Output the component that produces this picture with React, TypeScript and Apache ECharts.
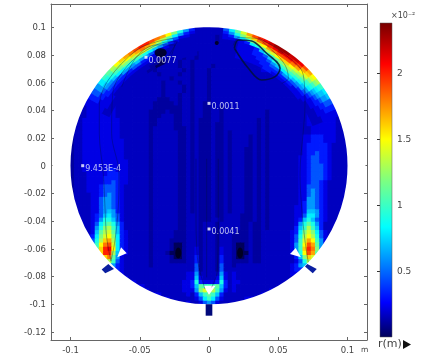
import React, { useEffect, useRef } from "react";
import * as echarts from "echarts";

// Field r(m): one character per grid cell, an index into levelValues (x 1e-2); '.' = outside the domain.
// Columns: x = -0.102 + 0.003 i, rows: y = 0.102 - 0.003 j
const levelChars = "0123456789ABCDEFGHIJKLMN";
const levelValues = [0, 0.11, 0.16, 0.22, 0.32, 0.45, 0.6, 0.7, 0.8, 0.9, 1.0, 1.1, 1.2, 1.3, 1.4, 1.5, 1.6, 1.7, 1.8, 1.9, 2.0, 2.1, 2.2, 2.3];
const gridStart = 0.102;
const gridStep = 0.003;
const fieldRows = [
  ".......... .......... .......... .......... .......... .......... .........",
  ".......... .......... ........33 2222222237 C......... .......... .........",
  ".......... .......... ....A85432 2222222223 6AEGI..... .......... .........",
  ".......... .......... .IGC853222 2222221222 2358CGJK.. .......... .........",
  ".......... .........K JFA6322222 2222221222 22258BEHKM .......... .........",
  ".......... .......KKI E953221122 2222222222 2212349CFI LN........ .........",
  ".......... .....IJIFB 7311222222 1222222222 22133348AC FILN...... .........",
  ".......... ....HHGD96 4200112221 2122222222 2221333448 ADGKM..... .........",
  ".......... ..FFEB8532 2101122212 2122222222 2222133455 79BEHKL... .........",
  ".......... .DEDA75322 2112222122 1222222222 2222213455 568BDGJK.. .........",
  ".......... BCB9643222 2222222122 1222212222 2222222344 4568ACFIJ. .........",
  ".........9 AA86432222 2122222212 1222122222 2222222333 32468ACFGG .........",
  "........78 8754322222 2212222122 1222122222 2222222222 2234679BDE E........",
  ".......566 6543322222 2222212222 1222122222 2222222222 222245689B B9.......",
  "......4455 5433222222 2221222122 1222122222 2222222222 2222345678 887......",
  ".....33444 4332222222 2221222212 1222122222 2222222222 2222334556 665......",
  ".....33334 3322222222 2221222212 1222122222 2222222222 2222233445 5544.....",
  "....223333 3222222222 2221222122 1222122222 2222222222 2222223344 4443.....",
  "....223333 3222222222 2211122122 1222122222 2222222222 2222222334 44433....",
  "....223333 3322222222 2111112122 1221122222 2222222222 2222222333 44433....",
  "...2233333 3322222222 2111111122 1221122122 2222222222 2222222233 344333...",
  "...2233333 3322222222 1111211122 1221122122 2222222212 2222222233 333332...",
  "...2233333 3322222222 1112221122 1221122122 2222222212 2222222233 333332...",
  "..22333333 3332222222 1122221122 1211122122 2222221212 2222222233 333332...",
  "..22333333 3332222222 1122221122 1211121122 2222221212 2222222233 3333322..",
  "..22333333 3332222222 1222221112 1211121122 2222221212 2222222223 3333322..",
  "..22333333 3332222222 1222222112 1211121121 2222221212 2222222223 3333322..",
  ".122333333 3332222222 1222222112 1211121121 2222121212 2222222334 4433322..",
  ".122333333 3333222222 1222222112 1211121121 2222121212 2222222334 4433322..",
  ".122333333 3333222222 1222222112 1211121121 2222121212 2222222344 4443222..",
  "1122333333 3333222222 1222222112 1211121121 2221121212 2222222344 44432222.",
  "1122333333 3333222222 1222222112 1211121121 2221121212 2222222344 54432222.",
  "1122333333 3333222222 1222222112 1211121121 2221121212 2222223345 54432222.",
  "1122333333 3333322222 1222222112 1211121121 2221121212 2222223345 54432222.",
  "1122333333 3333322222 1222222112 1211121121 2221121212 2222223345 55432222.",
  "1122333333 4433322222 1222222112 1211121121 2221121212 2222223345 55432222.",
  "1122233333 4443322222 1222222112 1211121121 2221121212 2222223345 55432222.",
  "1122233334 4443322222 1222222112 1211121121 2221121212 2222223345 55432222.",
  ".122233334 4543322222 1222222112 1211121121 2221121212 2222223345 54322222.",
  ".122233345 5543222222 1222222112 1211121121 2221121212 2222223355 54322222.",
  ".122233345 5543222222 1222222112 1211121121 2221121212 2222223356 54322222.",
  ".122223345 6543222222 1222222112 1211121121 2221121212 2222223356 5432222..",
  ".122223356 6543222222 1222222112 1211121121 2221121212 2222223366 5432222..",
  "..22223356 6543222222 1222222112 1211121121 2221121212 2222223466 5432222..",
  "..22223356 6543222222 1222222112 1211121121 2221121212 2222233466 5432222..",
  "..22223356 7643222222 1222222112 1211121121 2221121212 2222233477 6432222..",
  "...2223457 8653222222 1222222112 2211121122 2211121212 2222233588 6432222..",
  "...2223469 9753222222 1222222112 2211122122 2211121212 2222234797 5432222..",
  "....22358A B964222222 1222222112 2212221222 2211211212 22222369B9 6422222..",
  "....22369C DA74222222 1222222112 2212221222 2211211212 2222247ADA 7422222..",
  ".....237BD EB74322222 1222221112 2212221222 2111211222 2222348CEC 8532222..",
  ".....348CE FC84322222 1222221112 2212221222 1111211222 2222359DFD 9532222..",
  "......59DG HD84322222 1222211112 2212221222 1111211222 222235AEHF A632222..",
  "......6AFI JE84322222 1222210012 2212221222 1001211222 222236AFJH B63......",
  ".......BGK LF84322222 1222210012 2312221322 1001211222 222236AGKI C6.......",
  "........GK KD74322222 1222100012 2312221322 1000211222 2222359FJH B6.......",
  ".........G IB63222222 1222210012 2412221422 1001211222 2222247CGE A........",
  ".........C DA53222222 1222211112 2412221422 1111211222 22222359DC .........",
  ".......... 7643222222 1222222222 2512221522 1222222222 222234677. .........",
  ".......... ..43222222 2222222222 2512221522 2222222222 22223443.. .........",
  ".......... ...3222222 2222222223 3622222632 3222222222 222233.... .........",
  ".......... ....322222 2222222223 3732223732 3222222222 2222...... .........",
  ".......... ......3222 2222222233 4943334942 3322222222 222....... .........",
  ".......... ........32 2222222233 47BAAAB742 3222222222 2......... .........",
  ".......... .........3 2222222233 36CE9DA632 3222222223 .......... .........",
  ".......... .......... ..32222223 247ABA7422 22222223.. .......... .........",
  ".......... .......... ....322222 2358A85322 2223...... .......... .........",
  ".......... .......... ........23 2235653222 2......... .......... .........",
  ".......... .......... .......... .......... .......... .......... .........",
];

// Hot wall bands: one row per angle on the wall, one character per depth below the wall.
const wallRadius = 0.1;
const depthStep = 0.002;
const angleStep = 2.5;
const rightBandFirstAngle = 82.5;
const rightBandRows = [
  "5433222222", "8643222222", "B963222222", "EC83333333", "HEA4333333",
  "JGC8333333", "KIE9444333", "LJFB744433", "MKHD954443", "NLIEA75444",
  "NMJFB96544", "NLJGCA7543", "MLJGDA8543", "MKIFDB8643", "LJHECA8643",
  "JHFDB97543", "HGECA86533", "FECA976433", "DCA9865433", "A987654332",
  "8776543322", "7665443322", "5554433222", "4444333222", "3333332222",
];
const leftBandFirstAngle = 97.5;
const leftBandRows = [
  "4322222222", "6432222222", "9632222222", "C853222222", "FB74222222",
  "HD95322222", "IEB6322211", "JGC7432100", "KHD8532210", "KIE9643211",
  "JHEA643221", "IGDA753222", "HFC9653222", "GEC9643222", "FDB8643222",
  "DCA8543222", "BA97543222", "A986543222", "8876543222", "6665443322",
  "5554433322", "4444333322", "3333333222",
];

const colorbarMax = 2.38; // x 1e-2
const colorStops: [number, number[]][] = [
  [0, [0, 0, 90]],
  [0.11, [0, 0, 255]],
  [0.35, [0, 255, 255]],
  [0.5, [127, 255, 127]],
  [0.63, [255, 255, 0]],
  [0.87, [255, 0, 0]],
  [1, [120, 0, 0]],
];

const xTicks = [-0.1, -0.05, 0, 0.05, 0.1];
const yTicks = [-0.12, -0.1, -0.08, -0.06, -0.04, -0.02, 0, 0.02, 0.04, 0.06, 0.08, 0.1];
const colorbarTicks = [0.5, 1, 1.5, 2];

const probes: [number, number, string][] = [
  [-0.0455, 0.0783, "0.0077"],
  [0, 0.045, "0.0011"],
  [-0.0912, 0, "9.453E-4"],
  [0, -0.0457, "0.0041"],
];

const darkSpots: [number, number, number, number][] = [
  [-0.0349, 0.0816, 12, 9],
  [-0.0222, -0.063, 6, 11],
  [0.0224, -0.063, 6, 11],
  [0.0056, 0.0886, 4, 4],
];

const streamLeftOuter = [[-0.0258, 0.092], [-0.0378, 0.0895], [-0.0522, 0.0835], [-0.0727, 0.0619], [-0.0792, 0.0426], [-0.0792, 0.0234], [-0.0763, -0.006], [-0.0751, -0.03], [-0.0739, -0.0517], [-0.0708, -0.069]];
const streamLeftInner = [[-0.0294, 0.0787], [-0.0258, 0.0848], [-0.0229, 0.0895], [-0.0282, 0.0895], [-0.045, 0.0835], [-0.0594, 0.0715], [-0.0695, 0.0523], [-0.0703, 0.0234], [-0.065, -0.006], [-0.0655, -0.03], [-0.0679, -0.0541], [-0.0708, -0.069]];
const streamLeftSpot = [[-0.063, 0.057], [-0.0522, 0.0787], [-0.0378, 0.0872], [-0.0245, 0.0872], [-0.0269, 0.08]];
const streamRightOuter = [[0.0356, 0.0924], [0.0537, 0.0812], [0.0681, 0.0655], [0.0693, 0.0438], [0.0681, 0.0254], [0.0657, -0.006], [0.0669, -0.03], [0.0693, -0.0541], [0.0717, -0.0697]];
const streamRightInner = [[0.0175, 0.0868], [0.0212, 0.0924], [0.0332, 0.092], [0.0453, 0.0835], [0.0549, 0.0727], [0.0573, 0.0631], [0.0525, 0.0595]];
const streamCenterLeft = [[-0.0094, 0.005], [-0.0094, -0.03], [-0.0084, -0.0661], [-0.0029, -0.089]];
const streamCenterRight = [[0.0067, 0.005], [0.0067, -0.03], [0.006, -0.0758], [0.0019, -0.0878]];
const streamCenterMid = [[-0.0017, 0.005], [-0.0017, -0.0806]];
const recirculationLoop = [[0.0183, 0.0848], [0.0212, 0.0908], [0.0308, 0.09], [0.0404, 0.0823], [0.0513, 0.0703], [0.0477, 0.0643], [0.038, 0.0619], [0.0284, 0.0703], [0.0183, 0.0848]];

const holes = [
  [[-0.0635, -0.0589], [-0.0594, -0.0632], [-0.0662, -0.0661]],
  [[0.0626, -0.0594], [0.0664, -0.0661], [0.0585, -0.0638]],
  [[-0.004, -0.0866], [0.0048, -0.0866], [0, -0.0931]],
];
const outlets = [
  [[-0.0727, -0.071], [-0.0686, -0.0745], [-0.0749, -0.0776], [-0.0775, -0.0749]],
  [[0.071, -0.071], [0.0778, -0.0745], [0.0749, -0.0776], [0.0693, -0.0727]],
  [[-0.0024, -0.1], [0.0024, -0.1], [0.0024, -0.1083], [-0.0024, -0.1083]],
];

const TXT = "#444";
const FONT = "DejaVu Sans";

function colorOf(v: number) {
  const t = Math.min(1, Math.max(0, v / colorbarMax));
  for (let k = 1; k < colorStops.length; k++) {
    const [t1, c1] = colorStops[k];
    if (t <= t1) {
      const [t0, c0] = colorStops[k - 1];
      const f = (t - t0) / (t1 - t0);
      const c = c0.map((a, n) => Math.round(a + (c1[n] - a) * f));
      return `rgb(${c[0]},${c[1]},${c[2]})`;
    }
  }
  return "rgb(120,0,0)";
}

function buildCells() {
  const cells: number[][] = [];
  const put = (i: number, j: number, v: number) => {
    const x = -gridStart + gridStep * i;
    const y = gridStart - gridStep * j;
    if (Math.hypot(x, y) < wallRadius + 0.005) cells.push([x, y, v]);
  };
  fieldRows.forEach((raw, j) => {
    const row = raw.replace(/ /g, "");
    let first = -1;
    let last = -1;
    for (let i = 0; i < row.length; i++) {
      const lv = levelChars.indexOf(row[i]);
      if (lv >= 0) {
        put(i, j, levelValues[lv]);
        if (first < 0) first = i;
        last = i;
      }
    }
    if (first >= 0) {
      // the wall cells carry on under the white mask, so that the circle has no notches
      const a = levelValues[levelChars.indexOf(row[first])];
      const b = levelValues[levelChars.indexOf(row[last])];
      put(first - 1, j, a);
      put(first - 2, j, a);
      put(last + 1, j, b);
      put(last + 2, j, b);
    }
  });
  return cells;
}

function buildBandCells(rows: string[], firstAngle: number, dir: number) {
  const out: { value: number[]; points: number[][] }[] = [];
  rows.forEach((row, a) => {
    const mid = ((firstAngle + dir * a * angleStep) * Math.PI) / 180;
    const half = ((angleStep / 2 + 0.3) * Math.PI) / 180;
    for (let d = row.length - 1; d >= 0; d--) {
      const rOut = d === 0 ? wallRadius + 0.005 : wallRadius - d * depthStep + 0.0004;
      const rIn = wallRadius - (d + 1) * depthStep;
      const p = (r: number, t: number) => [r * Math.cos(t), r * Math.sin(t)];
      out.push({
        value: [p(rIn, mid)[0], p(rIn, mid)[1], levelValues[levelChars.indexOf(row[d])]],
        points: [p(rOut, mid - half), p(rOut, mid + half), p(rIn, mid + half), p(rIn, mid - half)],
      });
    }
  });
  return out;
}

const streamSeries = (data: number[][], width = 0.7, opacity = 0.5) => ({
  type: "line",
  data,
  smooth: 0.35,
  showSymbol: false,
  silent: true,
  lineStyle: { color: "#00103a", width, opacity },
  xAxisIndex: 0,
  yAxisIndex: 0,
});

const polyItem = (pts: number[][], fill: string) => ({
  type: "custom",
  coordinateSystem: "cartesian2d",
  xAxisIndex: 0,
  yAxisIndex: 0,
  data: [[pts[0][0], pts[0][1]]],
  silent: true,
  renderItem: (_p: any, api: any) => ({
    type: "polygon",
    shape: { points: pts.map((q) => api.coord(q)) },
    style: { fill },
  }),
});

const bandSeries = (rows: string[], firstAngle: number, dir: number) => {
  const cells = buildBandCells(rows, firstAngle, dir);
  return {
    type: "custom",
    coordinateSystem: "cartesian2d",
    xAxisIndex: 0,
    yAxisIndex: 0,
    data: cells.map((c) => c.value),
    silent: true,
    renderItem: (p: any, api: any) => ({
      type: "polygon",
      shape: { points: cells[p.dataIndex].points.map((q) => api.coord(q)) },
      style: { fill: colorOf(api.value(2)) },
    }),
  };
};

export default function App() {
  const ref = useRef<HTMLDivElement>(null);
  useEffect(() => {
    const chart = echarts.init(ref.current!, null, { renderer: "svg" });
    const stopsForBar = colorStops.map(([t, c]) => ({
      offset: 1 - t,
      color: `rgb(${c[0]},${c[1]},${c[2]})`,
    })).reverse();
    const frameLine = { show: true, onZero: false, lineStyle: { color: "#666", width: 1 } };
    chart.setOption({
      animation: false,
      backgroundColor: "#fff",
      textStyle: { fontFamily: FONT },
      grid: [
        { left: 51, right: 81, top: 4, bottom: 14 },
        { left: 380, right: 56, top: 23, bottom: 17 },
      ],
      xAxis: [
        {
          type: "value", gridIndex: 0, min: -0.11408, max: 0.11408, position: "bottom",
          splitLine: { show: false }, axisLine: frameLine,
          axisTick: { show: true, inside: true, length: 3, customValues: xTicks, lineStyle: { color: "#666" } },
          axisLabel: { customValues: xTicks, color: TXT, fontSize: 8.5, margin: 5, fontFamily: FONT },
        },
        {
          type: "value", gridIndex: 0, min: -0.11408, max: 0.11408, position: "top",
          splitLine: { show: false }, axisLine: frameLine,
          axisTick: { show: true, inside: true, length: 3, customValues: xTicks, lineStyle: { color: "#666" } },
          axisLabel: { show: false },
        },
        {
          type: "value", gridIndex: 1, min: 0, max: 1, show: false,
        },
      ],
      yAxis: [
        {
          type: "value", gridIndex: 0, min: -0.12585, max: 0.11675, position: "left",
          splitLine: { show: false }, axisLine: frameLine,
          axisTick: { show: true, inside: true, length: 3, customValues: yTicks, lineStyle: { color: "#666" } },
          axisLabel: { customValues: yTicks, color: TXT, fontSize: 8.5, margin: 5, fontFamily: FONT },
        },
        {
          type: "value", gridIndex: 0, min: -0.12585, max: 0.11675, position: "right",
          splitLine: { show: false }, axisLine: frameLine,
          axisTick: { show: true, inside: true, length: 3, customValues: yTicks, lineStyle: { color: "#666" } },
          axisLabel: { show: false },
        },
        {
          type: "value", gridIndex: 1, min: 0, max: colorbarMax, position: "right",
          splitLine: { show: false }, axisLine: { show: false },
          axisTick: { show: true, inside: true, length: 3, customValues: colorbarTicks, lineStyle: { color: "#333" } },
          axisLabel: { customValues: colorbarTicks, color: TXT, fontSize: 9, margin: 5, fontFamily: FONT },
        },
      ],
      graphic: [
        { type: "text", left: 391, top: 11, style: { text: "×10⁻²", fontSize: 8, fill: TXT, fontFamily: FONT } },
        { type: "text", left: 378, top: 338, style: { text: "r(m)", fontSize: 11, fill: TXT, fontFamily: FONT } },
        { type: "polygon", shape: { points: [[403, 340], [411, 344.5], [403, 349]] }, style: { fill: "#111" } },
        { type: "text", left: 361, top: 345, style: { text: "m", fontSize: 7.5, fill: TXT, fontFamily: FONT } },
      ],
      series: [
        {
          type: "custom",
          coordinateSystem: "cartesian2d",
          xAxisIndex: 0,
          yAxisIndex: 0,
          data: buildCells(),
          silent: true,
          renderItem: (_p: any, api: any) => {
            const c = api.coord([api.value(0), api.value(1)]);
            const s = api.size([gridStep, gridStep]);
            return {
              type: "rect",
              shape: { x: c[0] - s[0] / 2, y: c[1] - s[1] / 2, width: s[0] + 0.8, height: s[1] + 0.8 },
              style: { fill: colorOf(api.value(2)) },
            };
          },
        },
        bandSeries(rightBandRows, rightBandFirstAngle, -1),
        bandSeries(leftBandRows, leftBandFirstAngle, 1),
        {
          type: "scatter",
          xAxisIndex: 0,
          yAxisIndex: 0,
          silent: true,
          data: darkSpots.map((d) => ({ value: [d[0], d[1]], symbolSize: [d[2], d[3]] })),
          symbol: "circle",
          itemStyle: { color: "#000018", opacity: 0.85 },
        },
        streamSeries(streamLeftOuter),
        streamSeries(streamLeftInner),
        streamSeries(streamLeftSpot),
        streamSeries(streamRightOuter),
        streamSeries(streamRightInner),
        streamSeries(streamCenterLeft),
        streamSeries(streamCenterRight),
        streamSeries(streamCenterMid),
        streamSeries(recirculationLoop, 1.6, 0.85),
        {
          type: "custom",
          coordinateSystem: "cartesian2d",
          xAxisIndex: 0,
          yAxisIndex: 0,
          data: [[0, 0]],
          silent: true,
          renderItem: (_p: any, api: any) => {
            const c = api.coord([0, 0]);
            const r = api.size([0.1, 0])[0];
            return {
              type: "circle",
              shape: { cx: c[0], cy: c[1], r: r + 9 },
              style: { fill: "none", stroke: "#fff", lineWidth: 18 },
            };
          },
        },
        polyItem(outlets[0], "#0a1ea0"),
        polyItem(outlets[1], "#0a1ea0"),
        polyItem(outlets[2], "#00087a"),
        polyItem(holes[0], "#fff"),
        polyItem(holes[1], "#fff"),
        polyItem(holes[2], "#fff"),
        {
          type: "scatter",
          xAxisIndex: 0,
          yAxisIndex: 0,
          silent: true,
          data: probes,
          symbol: "rect",
          symbolSize: 3,
          itemStyle: { color: "#fff" },
          label: {
            show: true,
            position: "right",
            distance: 1,
            offset: [0, 3],
            color: "#e8eefc",
            fontSize: 8,
            fontFamily: FONT,
            formatter: (p: any) => p.data[2],
          },
        },
        {
          type: "custom",
          coordinateSystem: "cartesian2d",
          xAxisIndex: 2,
          yAxisIndex: 2,
          data: [[0, 0]],
          silent: true,
          z: 1,
          renderItem: (_p: any, api: any) => {
            const a = api.coord([0, colorbarMax]);
            const b = api.coord([1, 0]);
            return {
              type: "rect",
              shape: { x: a[0], y: a[1], width: b[0] - a[0], height: b[1] - a[1] },
              style: {
                fill: new echarts.graphic.LinearGradient(0, 0, 0, 1, stopsForBar),
                stroke: "#555",
                lineWidth: 0.5,
              },
            };
          },
        },
      ],
    });
    return () => chart.dispose();
  }, []);
  return (
    <div
      ref={ref}
      style={{ position: "fixed", left: 0, top: 0, width: 448, height: 354, filter: "blur(0.7px)" }}
    />
  );
}
